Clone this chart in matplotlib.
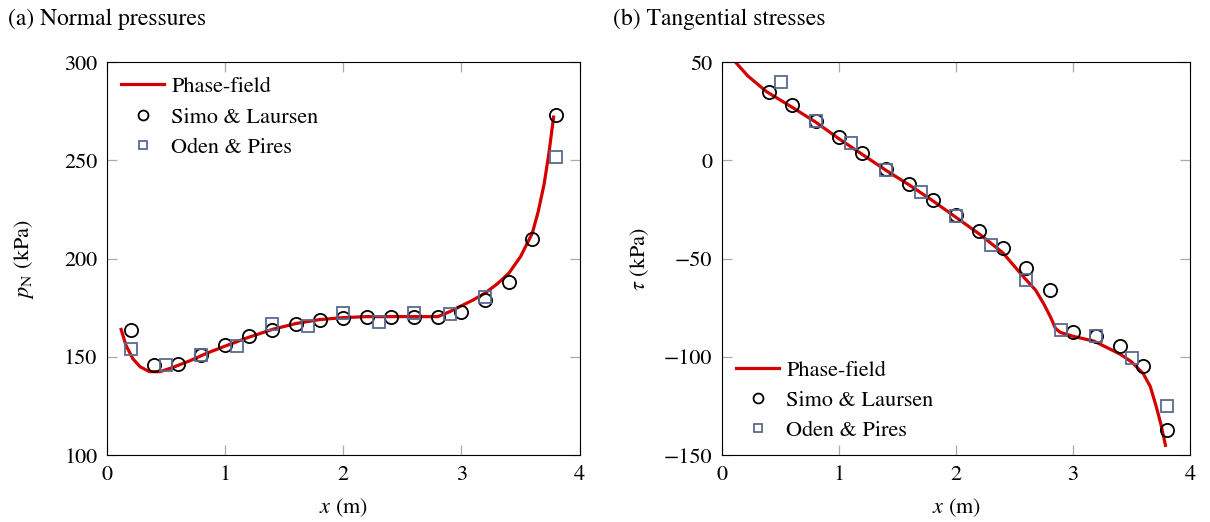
import matplotlib
matplotlib.use('Agg')
import matplotlib.pyplot as plt

plt.rcParams['font.family'] = 'STIXGeneral'
plt.rcParams['mathtext.fontset'] = 'stix'
plt.rcParams['font.size'] = 16

# (a) normal pressures
pn_pf_x = [0.12, 0.16, 0.22, 0.28, 0.36, 0.45, 0.55, 0.7, 0.85, 1.0, 1.2, 1.4,
           1.6, 1.8, 2.0, 2.2, 2.4, 2.6, 2.8, 2.9, 3.0, 3.1, 3.2, 3.3, 3.4,
           3.5, 3.6, 3.65, 3.7, 3.74, 3.78]
pn_pf_y = [164, 156, 149, 145, 142.5, 142.5, 144.5, 148, 152, 155.5, 160, 164,
           167, 169, 170, 170.5, 170.5, 170.5, 170.5, 173, 176, 179, 182.5,
           187, 192.5, 201, 213, 224, 238, 253.5, 272]
pn_sl_x = [0.2, 0.4, 0.6, 0.8, 1.0, 1.2, 1.4, 1.6, 1.8, 2.0, 2.2, 2.4, 2.6,
           2.8, 3.0, 3.2, 3.4, 3.6, 3.8]
pn_sl_y = [163.5, 146, 146.5, 151, 156, 160.5, 163.5, 167, 169, 170, 170.5,
           170.5, 170.5, 170.5, 173, 179, 188, 210, 273]
pn_op_x = [0.2, 0.5, 0.8, 1.1, 1.4, 1.7, 2.0, 2.3, 2.6, 2.9, 3.2, 3.8]
pn_op_y = [154, 146, 151, 155.5, 166.5, 165.5, 172.5, 168, 172.5, 172, 180.5,
           251.5]

# (b) tangential stresses
tau_pf_x = [0.1, 0.22, 0.38, 0.6, 0.8, 1.0, 1.2, 1.4, 1.6, 1.8, 2.0, 2.2, 2.4,
            2.58, 2.68, 2.75, 2.81, 2.85, 2.89, 3.0, 3.18, 3.4, 3.5, 3.6,
            3.66, 3.71, 3.75, 3.79]
tau_pf_y = [51, 43, 35, 27, 19.5, 11, 3, -5, -12.5, -20.5, -29, -37.5, -47,
            -59.5, -66, -73, -80, -85.5, -87.5, -89.5, -92, -98.5, -102.5,
            -108.5, -115, -125, -134, -145]
tau_sl_x = [0.4, 0.6, 0.8, 1.0, 1.2, 1.4, 1.6, 1.8, 2.0, 2.2, 2.4, 2.6, 2.8,
            3.0, 3.2, 3.4, 3.6, 3.8]
tau_sl_y = [35, 28, 20, 11.7, 3.6, -4.6, -12.2, -20.4, -28, -36, -44.4, -55,
            -66, -87.4, -89.6, -94.6, -104.5, -137]
tau_op_x = [0.5, 0.8, 1.1, 1.4, 1.7, 2.0, 2.3, 2.6, 2.9, 3.2, 3.5, 3.8]
tau_op_y = [39.7, 20, 8.6, -5, -16, -28.5, -43, -60.7, -86.5, -89.5, -100.6,
            -125]

red = '#d40000'
slate = '#5b6a8e'

fig = plt.figure(figsize=(12.1, 5.22), dpi=100)
ax1 = fig.add_axes([0.0884, 0.128, 0.3906, 0.753])
ax2 = fig.add_axes([0.5967, 0.128, 0.3868, 0.753])


def draw(ax, px, py, sx, sy, ox, oy, ylabel):
    ax.plot(px, py, color=red, lw=2.3, label='Phase-field', zorder=2)
    ax.plot(sx, sy, ls='none', marker='o', ms=9.5, mfc='none', mec='black',
            mew=1.3, label='Simo & Laursen', zorder=3)
    ax.plot(ox, oy, ls='none', marker='s', ms=8, mfc='none', mec=slate,
            mew=1.3, label='Oden & Pires', zorder=3)
    ax.set_xlim(0, 4)
    ax.set_xticks([0, 1, 2, 3, 4])
    ax.tick_params(direction='in', length=7, width=0.9, color='#aaaaaa',
                   top=True, right=True, labelsize=16, pad=7)
    ax.set_xlabel('$x$ (m)')
    ax.xaxis.set_label_coords(0.5, -0.105)
    ax.set_ylabel(ylabel)
    w = ax.get_position().width * 1210
    ax.yaxis.set_label_coords(-71 / w, 0.5)


draw(ax1, pn_pf_x, pn_pf_y, pn_sl_x, pn_sl_y, pn_op_x, pn_op_y,
     r'$p_\mathrm{N}$ (kPa)')
ax1.set_ylim(100, 300)
ax1.set_yticks([100, 150, 200, 250, 300])
ax1.legend(loc='upper left', frameon=False, fontsize=16, handlelength=1.9,
           handletextpad=0.35, borderaxespad=0.25, labelspacing=0.45,
           markerscale=0.75)

draw(ax2, tau_pf_x, tau_pf_y, tau_sl_x, tau_sl_y, tau_op_x, tau_op_y,
     r'$\tau$ (kPa)')
ax2.set_ylim(-150, 50)
ax2.set_yticks([-150, -100, -50, 0, 50])
ax2.legend(loc='lower left', frameon=False, fontsize=16, handlelength=1.9,
           handletextpad=0.35, borderaxespad=0.25, labelspacing=0.42,
           markerscale=0.75)

fig.text(0.007, 1 - 25 / 522, '(a) Normal pressures', fontsize=17,
         va='baseline')
fig.text(0.507, 1 - 25 / 522, '(b) Tangential stresses', fontsize=17,
         va='baseline')

fig.savefig('out.png', dpi=100)
